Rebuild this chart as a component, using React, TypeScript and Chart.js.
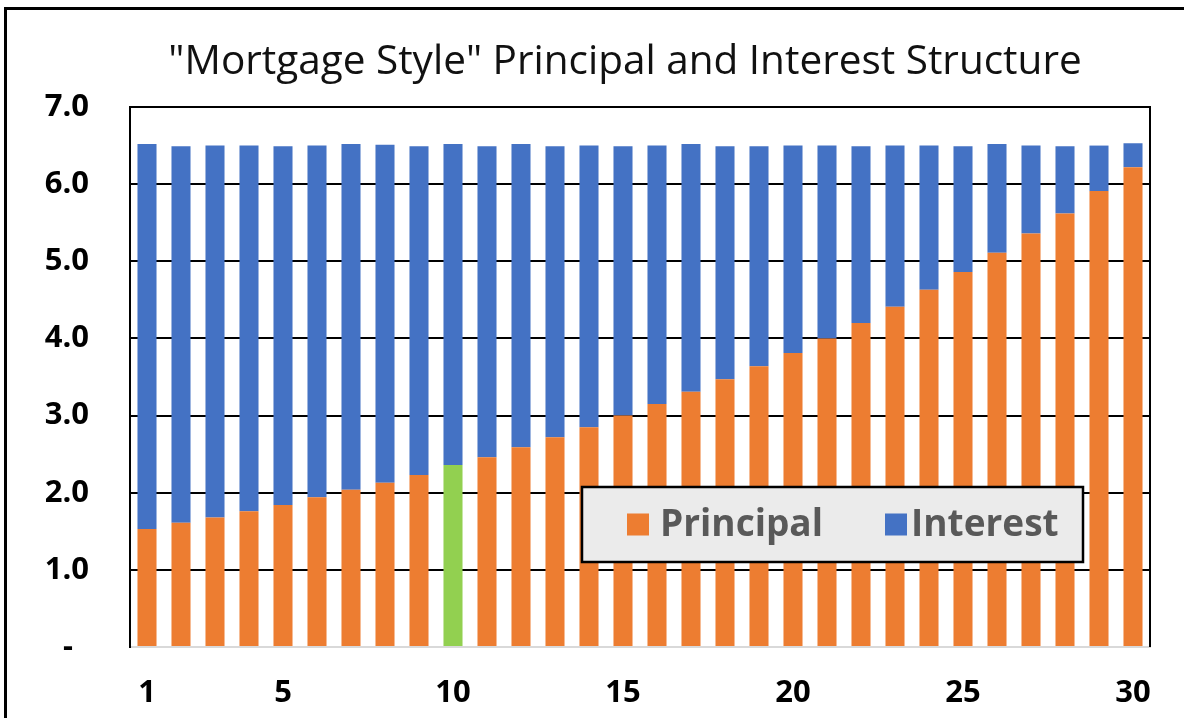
import React, { useEffect, useRef } from "react";
import { Chart, registerables } from "chart.js";

Chart.register(...registerables);

const categories = ["1","2","3","4","5","6","7","8","9","10","11","12","13","14","15","16","17","18","19","20","21","22","23","24","25","26","27","28","29","30"];
const principal = [1.53,1.61,1.68,1.76,1.84,1.94,2.04,2.13,2.23,2.36,2.46,2.59,2.72,2.85,3.00,3.15,3.31,3.47,3.64,3.81,4.00,4.20,4.41,4.63,4.86,5.11,5.36,5.62,5.91,6.22];
const interest = [4.99,4.88,4.82,4.74,4.65,4.56,4.48,4.38,4.26,4.16,4.03,3.93,3.77,3.65,3.49,3.35,3.21,3.02,2.85,2.69,2.50,2.29,2.09,1.87,1.63,1.41,1.14,0.87,0.59,0.31];
const xTickLabels = ["1","5","10","15","20","25","30"];
const highlightCategory = "10";
const titleText = "\"Mortgage Style\" Principal and Interest Structure";

const ORANGE = "#ED7D31";
const BLUE = "#4472C4";
const GREEN = "#92D050";

const frameAndLegend = {
  id: "frameAndLegend",
  afterDraw(chart: any) {
    const { ctx, chartArea } = chart;
    ctx.save();
    // title
    ctx.font = "40.5px 'Open Sans'";
    ctx.fillStyle = "#111";
    ctx.textAlign = "center";
    ctx.textBaseline = "middle";
    ctx.fillText(titleText, 625, 62);
    ctx.textAlign = "left";
    // right border of plot area
    ctx.strokeStyle = "#000";
    ctx.lineWidth = 2;
    ctx.beginPath();
    ctx.moveTo(chartArea.right, chartArea.top - 1);
    ctx.lineTo(chartArea.right, chartArea.bottom);
    ctx.stroke();
    // legend box
    const bx = 582, by = 487, bw = 501, bh = 75;
    ctx.fillStyle = "#ebebeb";
    ctx.fillRect(bx, by, bw, bh);
    ctx.lineWidth = 2.5;
    ctx.strokeStyle = "#000";
    ctx.strokeRect(bx, by, bw, bh);
    const midY = by + bh / 2;
    const ds = chart.data.datasets;
    ctx.font = "bold 37px 'Open Sans'";
    ctx.textBaseline = "middle";
    ctx.fillStyle = ORANGE;
    ctx.fillRect(627, midY - 11, 22, 22);
    ctx.fillStyle = "#595959";
    ctx.fillText(ds[0].label, 660, midY + 1);
    ctx.fillStyle = BLUE;
    ctx.fillRect(885, midY - 11, 22, 22);
    ctx.fillStyle = "#595959";
    ctx.fillText(ds[1].label, 911, midY + 1);
    ctx.restore();
  },
};

export default function App() {
  const ref = useRef<HTMLCanvasElement | null>(null);

  useEffect(() => {
    if (!ref.current) return;
    const principalColors = categories.map((c) => (c === highlightCategory ? GREEN : ORANGE));
    const chart = new Chart(ref.current, {
      type: "bar",
      data: {
        labels: categories,
        datasets: [
          { label: "Principal", data: principal, backgroundColor: principalColors, barPercentage: 0.56, categoryPercentage: 1 },
          { label: "Interest", data: interest, backgroundColor: BLUE, barPercentage: 0.56, categoryPercentage: 1 },
        ],
      },
      options: {
        responsive: false,
        animation: false,
        layout: { padding: { left: 0, right: 34, top: 107, bottom: 0 } },
        plugins: {
          legend: { display: false },
          tooltip: { enabled: false },
          title: { display: false },
        },
        scales: {
          x: {
            stacked: true,
            grid: { display: false, drawTicks: false },
            border: { display: true, color: "#d9d9d9", width: 2 },
            ticks: {
              autoSkip: false,
              maxRotation: 0,
              padding: 28,
              color: "#000",
              font: { family: "'Open Sans'", size: 31, weight: "bold" },
              callback: (_v: any, i: number) => (xTickLabels.includes(categories[i]) ? categories[i] : ""),
            },
            afterFit: (s: any) => { s.height = 71; },
          },
          y: {
            stacked: true,
            min: 0,
            max: 7,
            grid: {
              drawTicks: false,
              lineWidth: 2,
              color: (c: any) => (c.tick && c.tick.value === 0 ? "rgba(0,0,0,0)" : "#000"),
            },
            border: { display: true, color: "#000", width: 2 },
            ticks: {
              stepSize: 1,
              padding: 41,
              color: "#000",
              font: { family: "'Open Sans'", size: 31, weight: "bold" },
              callback: (v: any) => (Number(v) === 0 ? "-  " : Number(v).toFixed(1)),
            },
            afterFit: (s: any) => { s.width = 130; },
          },
        },
      },
      plugins: [frameAndLegend],
    } as any);
    return () => chart.destroy();
  }, []);

  return (
    <div style={{ position: "fixed", left: 0, top: 0, width: 1184, height: 718, background: "#fff", overflow: "hidden" }}>
      <canvas ref={ref} width={1184} height={718} style={{ position: "absolute", left: 0, top: 0 }} />
      <div style={{ position: "absolute", left: 4, top: 7, width: 1300, height: 800, border: "3px solid #000", pointerEvents: "none" }} />
    </div>
  );
}
